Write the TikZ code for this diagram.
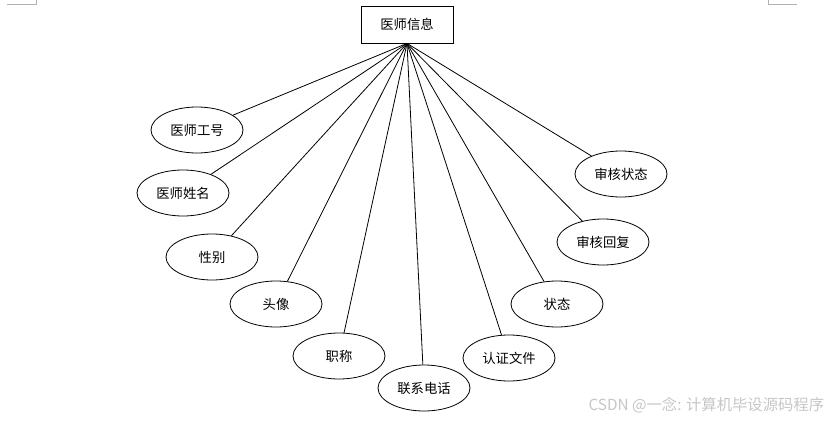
\documentclass[tikz,border=0pt]{standalone}
\usepackage{fontspec}
\setmainfont{Noto Sans CJK SC}
\usetikzlibrary{shapes.geometric}

\begin{document}
\begin{tikzpicture}[x=0.75pt,y=-0.75pt,line width=0.6pt,
  attr/.style={draw,ellipse,minimum width=69pt,minimum height=34.5pt,inner sep=0pt,font=\normalsize},
  entidad/.style={draw,rectangle,minimum width=69pt,minimum height=27.75pt,inner sep=0pt,font=\normalsize}]
  \useasboundingbox (0,0) rectangle (836,421);
  % marcas de margen de pagina
  \draw[gray!60,line width=0.5pt] (7,4)--(36,4)--(36,0);
  \draw[gray!60,line width=0.5pt] (768,0)--(768,4)--(797,4);
  % entidad
  \node[entidad] (medico) at (407,24.5){医师信息};
  % atributos
  \node[attr] (gonghao) at (197,130){医师工号};
  \node[attr] (xingming) at (183,193){医师姓名};
  \node[attr] (xingbie) at (212,257){性别};
  \node[attr] (touxiang) at (276,304){头像};
  \node[attr] (zhicheng) at (339,356){职称};
  \node[attr] (dianhua) at (424,388){联系电话};
  \node[attr] (wenjian) at (509,358){认证文件};
  \node[attr] (zhuangtai) at (557,304){状态};
  \node[attr] (huifu) at (603,242){审核回复};
  \node[attr] (shenhe) at (621,174){审核状态};
  % conexiones
  \foreach \a in {gonghao,xingming,xingbie,touxiang,zhicheng,dianhua,wenjian,zhuangtai,huifu,shenhe}
    \draw (medico.south)--(\a);
  % marca de agua
  \node[gray!45,font=\fontsize{11.5}{13}\selectfont,anchor=east] (marca) at (829,405){CSDN @一念: 计算机毕设源码程序};
\end{tikzpicture}
\end{document}
